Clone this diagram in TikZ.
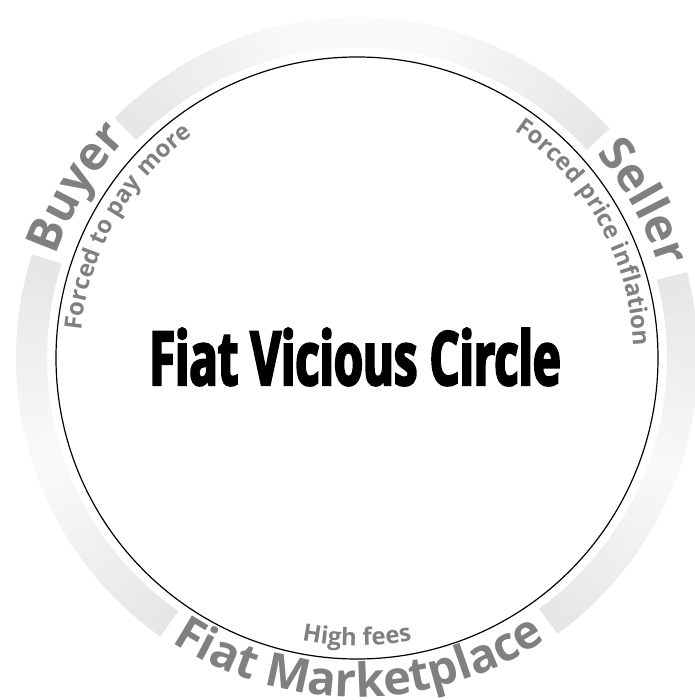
\documentclass[tikz,border=0pt]{standalone}
\usepackage{fontspec}
\setmainfont{Open Sans}
\newfontfamily\titlefont{Open Sans}[BoldFeatures={FakeStretch=0.63,FakeBold=3}]
\usetikzlibrary{decorations.text}
\newcommand\bigarc{\bfseries\fontsize{47}{47}\selectfont}
\newcommand\smallarc{\bfseries\fontsize{24}{24}\selectfont}

\begin{document}
\begin{tikzpicture}[x=1pt, y=1pt,
  ring/.style={line width=31pt},
  arclabel/.style={decorate, decoration={text along path, text align=center, text color=black!50, text={#1}}}]

  \useasboundingbox (-357,-342) rectangle (337,358);

  % grey ring, fading between the gaps
  \foreach \s/\e in {42.2/135.3, 162.3/234.8, 306/374.6}{
    \pgfmathsetmacro\stp{(\e-\s)/60}
    \foreach \i in {0,...,59}{
      \pgfmathsetmacro\aa{\s+\i*\stp}
      \pgfmathsetmacro\ab{min(\aa+1.3*\stp,\e)}
      \pgfmathsetmacro\k{max(2,10*(1-min(\aa+0.5*\stp-\s,\e-\aa-0.5*\stp)/45))}
      \draw[ring, draw=black!\k] (\aa:325.5) arc[start angle=\aa, end angle=\ab, radius=325.5];
    }
  }

  \draw[line width=1.2pt] (0,0) circle[radius=301];

  \node[font=\titlefont\bfseries\fontsize{74.7}{75}\selectfont, anchor=base, inner sep=0] (title) at (-2,-27) {Fiat Vicious Circle};

  % outer labels
  \path[arclabel={|\bigarc|Buyer}] (190:318) arc[start angle=190, end angle=107.6, radius=318];
  \path[arclabel={|\bigarc|Seller}] (70:315) arc[start angle=70, end angle=-12.8, radius=315];
  \path[arclabel={|\bigarc|Fiat Marketplace}] (200:339) arc[start angle=200, end angle=340.8, radius=339];

  % inner labels
  \path[arclabel={|\smallarc|Forced to pay more}] (210:277) arc[start angle=210, end angle=90.6, radius=277];
  \path[arclabel={|\smallarc|Forced price inflation}] (90:277) arc[start angle=90, end angle=-32.2, radius=277];
  \path[arclabel={|\smallarc|High fees}] (220:288) arc[start angle=220, end angle=320, radius=288];
\end{tikzpicture}
\end{document}
